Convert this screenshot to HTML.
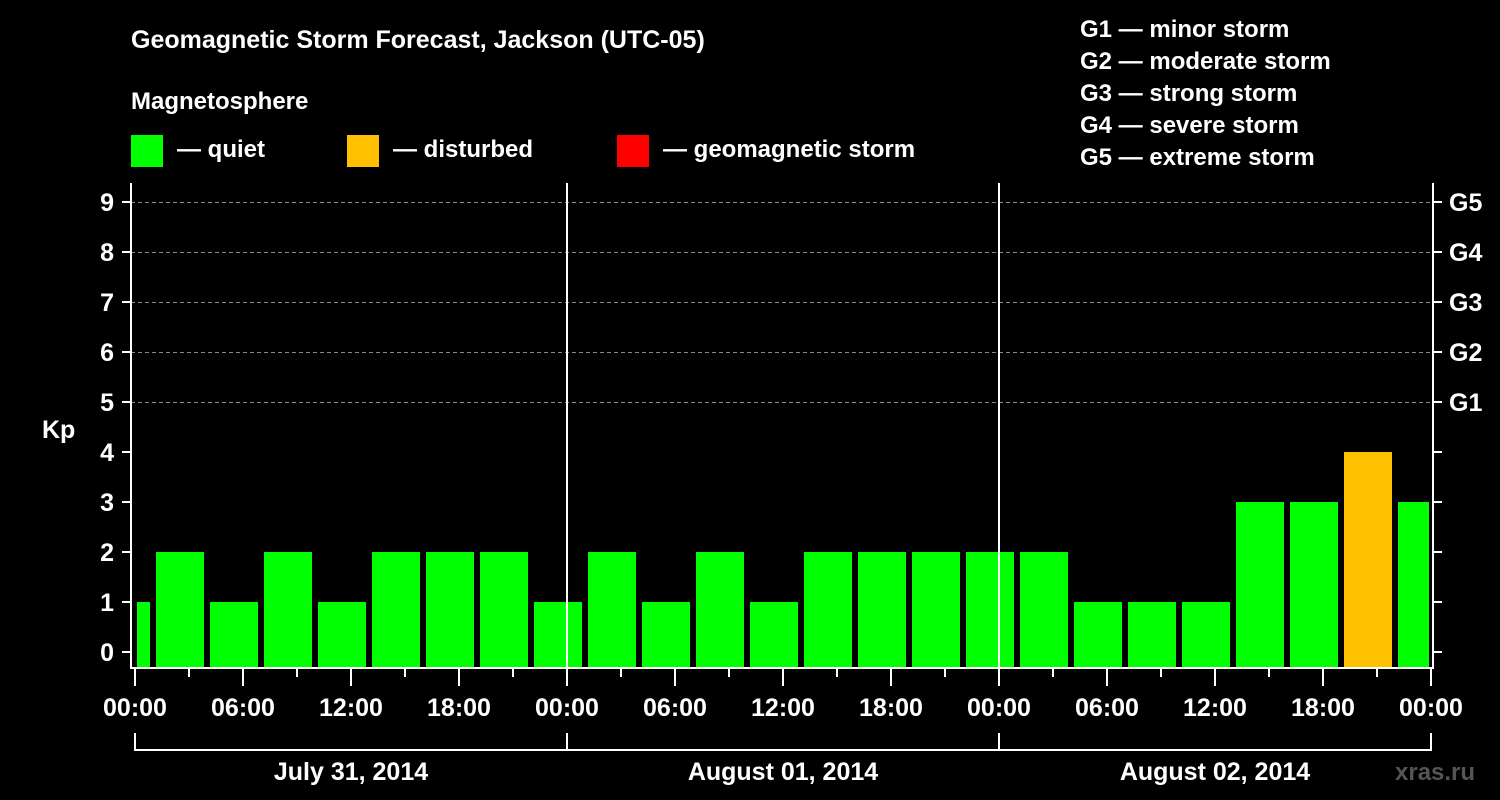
<!DOCTYPE html>
<html><head><meta charset="utf-8"><style>
html,body{margin:0;padding:0;background:#000;}
svg{display:block;}
text{font-family:"Liberation Sans",Arial,sans-serif;font-weight:bold;fill:#fff;}
</style></head><body>
<svg id="chart" width="1500" height="800" viewBox="0 0 1500 800" xmlns="http://www.w3.org/2000/svg">
<rect width="1500" height="800" fill="#000"/>
<text x="131" y="48" font-size="25">Geomagnetic Storm Forecast, Jackson (UTC-05)</text>
<text x="131" y="109" font-size="24">Magnetosphere</text>
<g><rect x="131" y="135" width="32" height="32" fill="#00ff00"/><text x="177" y="157" font-size="24">— quiet</text></g>
<g><rect x="347" y="135" width="32" height="32" fill="#ffc000"/><text x="393" y="157" font-size="24">— disturbed</text></g>
<g><rect x="617" y="135" width="32" height="32" fill="#ff0000"/><text x="663" y="157" font-size="24">— geomagnetic storm</text></g>
<g font-size="24">
<text x="1080" y="37">G1 — minor storm</text>
<text x="1080" y="69">G2 — moderate storm</text>
<text x="1080" y="101">G3 — strong storm</text>
<text x="1080" y="133">G4 — severe storm</text>
<text x="1080" y="165">G5 — extreme storm</text>
</g>
<text x="42" y="438" font-size="25">Kp</text>
<text x="1395" y="780" font-size="24" style="fill:#555">xras.ru</text>
<g id="grid"></g><g id="bars"></g><g id="axes"></g>
</svg>
<script>
const kpValues=[1,2,1,2,1,2,2,2,1,2,1,2,1,2,2,2,2,2,1,1,1,3,3,4,3];
const blockStartHour=-2;
const yTicks=[0,1,2,3,4,5,6,7,8,9];
const gLabels=["","","","","","G1","G2","G3","G4","G5"];
const xTickLabels=["00:00","06:00","12:00","18:00","00:00","06:00","12:00","18:00","00:00","06:00","12:00","18:00","00:00"];
const dayLabels=["July 31, 2014","August 01, 2014","August 02, 2014"];
const NS="http://www.w3.org/2000/svg";
const X0=135,PX_H=18,X1=1431,YB=668,TOP=183;
const x=h=>X0+h*PX_H;
const y=v=>652-50*v;
function mk(tag,attrs,parent,txt){const e=document.createElementNS(NS,tag);for(const k in attrs)e.setAttribute(k,attrs[k]);if(txt!==undefined)e.textContent=txt;parent.appendChild(e);return e;}
const grid=document.getElementById('grid'),bars=document.getElementById('bars'),axes=document.getElementById('axes');
yTicks.forEach(v=>{if(v>=5){const l=mk('line',{x1:131,x2:1433,y1:y(v)+0.5,y2:y(v)+0.5,stroke:'#888','stroke-dasharray':'4,3','stroke-width':1},grid);

}});
kpValues.forEach((v,i)=>{const h=blockStartHour+3*i;let a=x(h)+3,b=x(h+3)-3;a=Math.max(a,137);b=Math.min(b,1429);
const c=v>=5?'#ff0000':(v>=4?'#ffc000':'#00ff00');
const r=mk('rect',{x:a,y:y(v),width:b-a,height:YB-y(v),fill:c},bars);

});
// day separators
[1,2].forEach(d=>{const l=mk('line',{x1:x(24*d),x2:x(24*d),y1:TOP,y2:YB,stroke:'#fff','stroke-width':2},axes);

});
// frame
const fr=mk('path',{d:`M131 ${TOP} V${YB} H1433 V${TOP}`,fill:'none',stroke:'#fff','stroke-width':2},axes);


yTicks.forEach((v,i)=>{mk('line',{x1:122,x2:131,y1:y(v),y2:y(v),stroke:'#fff','stroke-width':2},axes);
mk('line',{x1:1433,x2:1442,y1:y(v),y2:y(v),stroke:'#fff','stroke-width':2},axes);
const t=mk('text',{x:114,y:y(v)+9,'font-size':25,'text-anchor':'end'},axes,String(v));


if(gLabels[i]){const g=mk('text',{x:1449,y:y(v)+9,'font-size':25},axes,gLabels[i]);

}});
for(let h=0;h<=72;h+=3){const major=h%6===0;mk('line',{x1:x(h),x2:x(h),y1:YB,y2:major?686:677,stroke:'#fff','stroke-width':2},axes);}
xTickLabels.forEach((s,i)=>{const t=mk('text',{x:x(6*i),y:716,'font-size':25,'text-anchor':'middle'},axes,s);

});
mk('line',{x1:X0,x2:X1,y1:750,y2:750,stroke:'#fff','stroke-width':2},axes);
[0,1,2,3].forEach(d=>mk('line',{x1:x(24*d),x2:x(24*d),y1:733,y2:751,stroke:'#fff','stroke-width':2},axes));
dayLabels.forEach((s,i)=>{const t=mk('text',{x:x(24*i+12),y:780,'font-size':25,'text-anchor':'middle'},axes,s);

});
</script>
</body></html>
